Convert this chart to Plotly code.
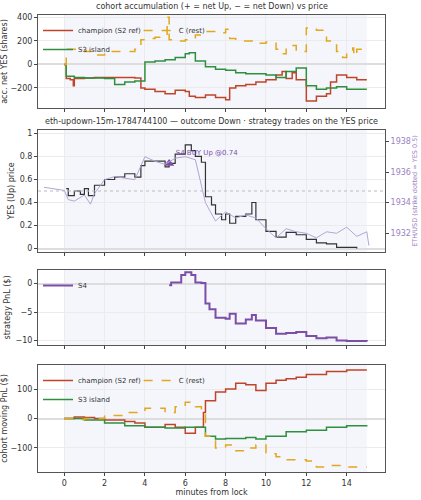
import plotly.graph_objects as go

# panel 1: accumulated net YES (shares)
t_ch1 = [0, 0.1, 0.3, 0.45, 0.5, 1, 1.5, 3.5, 3.8, 4, 4.5, 5, 5.5, 6, 6.2, 6.5, 7, 7.5, 8, 8.2, 8.5, 9, 9.5, 10, 10.5, 10.8, 11, 11.3, 11.5, 12, 12.5, 13, 13.2, 13.5, 14, 14.5, 15]
v_ch1 = [0, -120, -130, -180, -120, -115, -110, -115, -200, -210, -230, -250, -220, -230, -270, -280, -260, -280, -300, -200, -180, -170, -150, -130, -90, -60, -120, -70, -130, -310, -270, -250, -150, -90, -110, -130, -130]
t_s31 = [0, 0.1, 0.5, 1, 2, 2.5, 3, 3.5, 4, 4.5, 5, 5.5, 6, 6.2, 6.5, 7, 7.5, 8, 8.5, 9, 10, 10.5, 11, 11.5, 12, 12.5, 13, 13.5, 14, 15]
v_s31 = [0, -100, -110, -115, -120, -170, -150, -140, 20, 30, 40, 60, 90, 100, 30, -20, -40, -50, -70, -80, -90, -110, -60, -30, -180, -210, -200, -190, -210, -210]
t_c1 = [0, 0.1, 1, 1.3, 1.35, 2, 3.5, 3.8, 4, 4.5, 5, 5.1, 5.2, 5.5, 6, 6.5, 7, 7.5, 8, 8.2, 8.5, 9, 9.5, 10, 10.5, 10.8, 11, 11.5, 12, 12.5, 13, 13.5, 13.8, 14, 14.3, 14.35, 14.5, 15]
v_c1 = [0, 130, 110, 110, 80, 110, 130, 210, 220, 230, 240, 400, 210, 200, 210, 250, 280, 270, 300, 220, 200, 200, 180, 190, 130, 90, 160, 110, 310, 290, 200, 110, 60, 120, 140, 70, 130, 130]

# panel 2: YES price and ETH/USD
t_yes = [0.1, 0.2, 0.5, 0.8, 1, 1.2, 1.5, 2, 2.5, 3, 3.5, 3.8, 4, 4.5, 5, 5.2, 5.5, 6, 6.3, 6.5, 6.8, 7, 7.3, 7.5, 7.8, 8, 8.2, 8.5, 9, 9.3, 9.5, 10, 10.5, 11, 11.5, 12, 12.5, 13, 13.5, 14, 14.5]
v_yes = [0.52, 0.46, 0.5, 0.47, 0.52, 0.46, 0.55, 0.6, 0.62, 0.65, 0.62, 0.72, 0.76, 0.76, 0.71, 0.74, 0.82, 0.9, 0.85, 0.8, 0.75, 0.45, 0.38, 0.3, 0.25, 0.3, 0.22, 0.28, 0.3, 0.4, 0.25, 0.15, 0.1, 0.14, 0.12, 0.08, 0.05, 0.04, 0.01, 0.01, 0.0]
t_eth = [-1, -0.5, 0, 0.2, 0.5, 1, 1.3, 1.5, 2, 2.5, 3, 3.5, 3.8, 4, 4.5, 5, 5.5, 6, 6.5, 7, 7.5, 8, 8.5, 9, 9.5, 10, 10.5, 11, 11.5, 12, 12.5, 13, 13.5, 14, 14.5, 15, 15.1]
v_eth = [1935.0, 1934.9, 1934.8, 1934.2, 1934.1, 1934.5, 1933.9, 1934.6, 1935.5, 1935.7, 1935.6, 1935.5, 1936.4, 1937.0, 1936.7, 1936.5, 1936.9, 1937.0, 1936.8, 1934.0, 1932.8, 1933.4, 1933.0, 1933.2, 1933.0, 1932.3, 1931.7, 1932.3, 1932.1, 1932.0, 1931.7, 1932.1, 1932.0, 1932.4, 1931.8, 1932.1, 1931.2]
buy_t, buy_p = [5.2], [0.74]

# panel 3: S4 PnL
t_s4 = [5.2, 5.3, 5.8, 6, 6.3, 6.5, 6.8, 7, 7.2, 7.5, 8, 8.2, 8.5, 9, 9.3, 9.5, 10, 10.5, 11, 11.5, 12, 12.5, 13, 13.5, 14, 15]
v_s4 = [-0.3, 0.2, 1.5, 2, 1.5, 0.2, 0.1, -3.5, -4.5, -6, -6.2, -5.3, -7, -6.3, -5.5, -6.5, -7.8, -8.8, -8.7, -8.5, -9.2, -9.6, -9.5, -10, -10.1, -10.2]

# panel 4: cohort moving PnL
t_ch4 = [0, 0.5, 1, 1.5, 2, 3, 3.5, 4, 5, 5.5, 6, 6.5, 6.8, 6.9, 7, 7.5, 8, 8.5, 9, 9.5, 10, 10.5, 11, 11.5, 12, 13, 14, 15]
v_ch4 = [0, 5, 3, 0, -5, -10, -15, -30, -20, -30, -50, -30, -30, 20, 60, 90, 100, 120, 115, 95, 120, 130, 135, 140, 150, 160, 165, 165]
t_s34 = [0, 1, 2, 3, 4, 5, 6, 6.8, 7, 7.5, 8, 9, 9.5, 10, 11, 12, 13, 14, 15]
v_s34 = [0, -5, -15, -25, -30, -32, -30, -30, -60, -70, -68, -65, -70, -60, -45, -40, -30, -25, -23]
t_c4 = [0, 0.5, 1, 2, 3, 4, 5, 5.5, 6, 6.5, 6.8, 7, 7.5, 8, 8.5, 9, 9.5, 10, 10.5, 11, 12, 12.5, 13, 14, 15]
v_c4 = [0, -3, 0, 10, 20, 35, 20, 40, 55, 40, 20, -60, -100, -90, -110, -100, -90, -120, -130, -140, -145, -165, -160, -165, -165]

RED, GREEN, GOLD, PURPLE = "#c0442a", "#2f8f3f", "#e3a71b", "#7b4fa8"

def py(px):
    return 1 - px / 500

fig = go.Figure()
ln = dict(shape="hv", width=1.5)
fig.add_trace(go.Scatter(x=t_ch1, y=v_ch1, mode="lines", name="champion (S2 ref)", line=dict(color=RED, **ln), legend="legend"))
fig.add_trace(go.Scatter(x=t_s31, y=v_s31, mode="lines", name="S3 island", line=dict(color=GREEN, **ln), legend="legend"))
fig.add_trace(go.Scatter(x=t_c1, y=v_c1, mode="lines", name="C (rest)", line=dict(color=GOLD, dash="dash", **ln), legend="legend4"))

fig.add_trace(go.Scatter(x=t_eth, y=v_eth, mode="lines", xaxis="x2", yaxis="y5", line=dict(color="#b3a4d6", width=1), showlegend=False))
fig.add_trace(go.Scatter(x=t_yes, y=v_yes, mode="lines", xaxis="x2", yaxis="y2", line=dict(color="#333333", shape="hv", width=1.2), showlegend=False))
fig.add_trace(go.Scatter(x=buy_t, y=buy_p, xaxis="x2", yaxis="y2", mode="markers+text",
                         marker=dict(symbol="triangle-up", size=9, color=PURPLE),
                         text=["S4 BUY Up @0.74"], textposition="top right",
                         textfont=dict(size=7, color=PURPLE), showlegend=False))

fig.add_trace(go.Scatter(x=t_s4, y=v_s4, mode="lines", name="S4", xaxis="x3", yaxis="y3", line=dict(color=PURPLE, shape="hv", width=2), legend="legend2"))

fig.add_trace(go.Scatter(x=t_ch4, y=v_ch4, mode="lines", name="champion (S2 ref)", xaxis="x4", yaxis="y4", line=dict(color=RED, **ln), legend="legend3"))
fig.add_trace(go.Scatter(x=t_s34, y=v_s34, mode="lines", name="S3 island", xaxis="x4", yaxis="y4", line=dict(color=GREEN, **ln), legend="legend3"))
fig.add_trace(go.Scatter(x=t_c4, y=v_c4, mode="lines", name="C (rest)", xaxis="x4", yaxis="y4", line=dict(color=GOLD, dash="dash", **ln), legend="legend5"))

ax = dict(range=[-1.3, 15.9], showline=True, mirror=True, linecolor="#555", linewidth=1, automargin=False,
          gridcolor="#ebebeb", ticks="outside", ticklen=3, tickfont=dict(size=8), zeroline=False, dtick=2)
ya = dict(showline=True, mirror=True, linecolor="#555", linewidth=1, gridcolor="#ebebeb", automargin=False,
          ticks="outside", ticklen=3, tickfont=dict(size=8), zerolinecolor="#dddddd")

def yt(s):
    return dict(text=s, font=dict(size=8), standoff=3)

doms = [(15, 108), (130, 252), (270, 345), (365, 472)]
lo2, hi2 = -0.03, 1.03
e = lambda v: 1934.76 + (v - 0.5) * 7.51

leg = dict(xanchor="left", yanchor="top", font=dict(size=7), bgcolor="rgba(0,0,0,0)",
           borderwidth=0, tracegroupgap=0, itemwidth=30)

fig.update_layout(
    width=421, height=500, margin=dict(l=38, r=36, t=0, b=0),
    plot_bgcolor="white", paper_bgcolor="white",
    font=dict(family="DejaVu Sans", size=8, color="#333"),
    xaxis=dict(ax, domain=[0, 1], anchor="y", showticklabels=False),
    xaxis2=dict(ax, domain=[0, 1], anchor="y2", showticklabels=False),
    xaxis3=dict(ax, domain=[0, 1], anchor="y3", showticklabels=False),
    xaxis4=dict(ax, domain=[0, 1], anchor="y4", title=dict(text="minutes from lock", font=dict(size=8), standoff=2)),
    yaxis=dict(ya, domain=[py(doms[0][1]), py(doms[0][0])], range=[-370, 420], dtick=200, title=yt("acc. net YES (shares)"), zeroline=True),
    yaxis2=dict(ya, domain=[py(doms[1][1]), py(doms[1][0])], range=[lo2, hi2], dtick=0.2, title=yt("YES (Up) price")),
    yaxis5=dict(ya, overlaying="y2", side="right", anchor="x2", range=[e(lo2), e(hi2)], dtick=2, showgrid=False, mirror=False,
                tickfont=dict(size=8, color="#9b7fc4"),
                title=dict(text="ETH/USD (strike dotted = YES 0.5)", font=dict(size=6.5, color="#9b7fc4"), standoff=2)),
    yaxis3=dict(ya, domain=[py(doms[2][1]), py(doms[2][0])], range=[-10.8, 2.4], dtick=5, title=yt("strategy PnL ($)"), zeroline=True),
    yaxis4=dict(ya, domain=[py(doms[3][1]), py(doms[3][0])], range=[-182, 182], dtick=100, title=yt("cohort moving PnL ($)"), zeroline=True),
    legend=dict(leg, x=0.0, y=py(16)),
    legend4=dict(leg, x=0.29, y=py(16)),
    legend2=dict(leg, x=0.0, y=py(271)),
    legend3=dict(leg, x=0.0, y=py(366)),
    legend5=dict(leg, x=0.29, y=py(366)),
    annotations=[
        dict(text="cohort accumulation (+ = net Up, − = net Down) vs price", x=0.5, y=py(13), yanchor="bottom",
             xref="paper", yref="paper", showarrow=False, font=dict(size=8)),
        dict(text="eth-updown-15m-1784744100 — outcome Down · strategy trades on the YES price", x=0.5, y=py(128),
             yanchor="bottom", xref="paper", yref="paper", showarrow=False, font=dict(size=8)),
    ],
)

shapes = []
for i, yr in enumerate(["y", "y2", "y3", "y4"]):
    xr = "x" if i == 0 else "x%d" % (i + 1)
    shapes.append(dict(type="rect", xref=xr, yref=yr + " domain", x0=0, x1=15, y0=0, y1=1,
                       fillcolor="#f4f6fb", line_width=0, layer="below"))
shapes.append(dict(type="line", xref="x2 domain", yref="y2", x0=0, x1=1, y0=0.5, y1=0.5,
                   line=dict(color="#bbbbbb", width=1, dash="dot")))
fig.update_layout(shapes=shapes)

# drop the default page margin so the figure sits at the window's corner
fig.write_html("out.html", config={"displayModeBar": False},
               post_script="document.body.style.margin='0';")
